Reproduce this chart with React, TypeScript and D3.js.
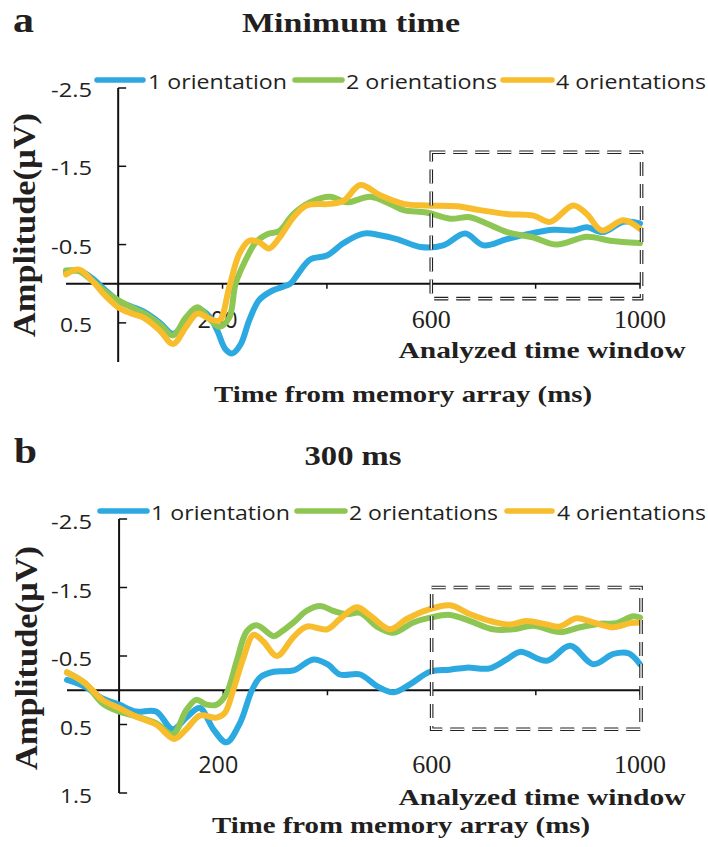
import React from 'react';
import * as d3 from 'd3';

type Pt = [number, number];

// panel a (minimum time) – [ms, µV]
const aBlue: Pt[] = [
  [-100, -0.15], [-75, -0.17], [-50, -0.07], [-25, 0.08], [0, 0.22], [25, 0.29], [50, 0.36], [80, 0.5],
  [105, 0.64], [130, 0.48], [155, 0.33], [175, 0.42], [190, 0.6], [206, 0.84], [219, 0.89], [235, 0.77],
  [251, 0.47], [270, 0.21], [295, 0.09], [315, 0.04], [330, 0.0], [345, -0.13], [368, -0.31], [400, -0.36],
  [432, -0.52], [470, -0.64], [502, -0.62], [534, -0.57], [579, -0.47], [623, -0.49], [665, -0.64],
  [700, -0.49], [745, -0.57], [789, -0.64], [834, -0.69], [872, -0.68], [898, -0.72], [930, -0.66],
  [968, -0.79], [1000, -0.77],
];
const aGreen: Pt[] = [
  [-100, -0.17], [-75, -0.16], [-50, -0.04], [-25, 0.1], [0, 0.21], [25, 0.3], [50, 0.38], [80, 0.52],
  [105, 0.66], [130, 0.43], [152, 0.3], [175, 0.45], [194, 0.55], [213, 0.43], [225, 0.0], [244, -0.3],
  [264, -0.53], [289, -0.64], [308, -0.67], [336, -0.89], [368, -1.04], [406, -1.11], [438, -1.04],
  [483, -1.11], [521, -1.02], [547, -0.94], [591, -0.91], [636, -0.83], [674, -0.85], [706, -0.77],
  [745, -0.66], [796, -0.59], [840, -0.5], [898, -0.6], [943, -0.55], [1000, -0.52],
];
const aOrange: Pt[] = [
  [-100, -0.12], [-75, -0.18], [-50, -0.04], [-25, 0.15], [0, 0.3], [25, 0.38], [50, 0.44], [80, 0.6],
  [105, 0.77], [130, 0.55], [152, 0.38], [175, 0.45], [194, 0.47], [213, 0.04], [232, -0.38], [251, -0.55],
  [270, -0.53], [289, -0.45], [308, -0.58], [336, -0.85], [361, -1.0], [406, -1.02], [432, -1.06],
  [464, -1.26], [502, -1.13], [547, -1.02], [591, -1.0], [649, -0.99], [693, -0.94], [745, -0.89],
  [796, -0.87], [828, -0.79], [872, -1.0], [898, -0.89], [927, -0.68], [968, -0.81], [1000, -0.7],
];

// panel b (300 ms)
const bBlue: Pt[] = [
  [-100, -0.15], [-65, -0.05], [-32, 0.12], [0, 0.21], [32, 0.31], [71, 0.31], [103, 0.57], [129, 0.4],
  [155, 0.26], [181, 0.57], [206, 0.76], [232, 0.48], [255, 0.0], [271, -0.19], [297, -0.27], [335, -0.29],
  [373, -0.45], [400, -0.38], [424, -0.23], [463, -0.23], [495, -0.06], [527, 0.03], [559, -0.09],
  [597, -0.27], [635, -0.3], [667, -0.33], [712, -0.32], [744, -0.45], [770, -0.56], [821, -0.43],
  [866, -0.65], [910, -0.38], [949, -0.53], [978, -0.54], [1000, -0.38],
];
const bGreen: Pt[] = [
  [-100, -0.26], [-65, -0.1], [-32, 0.19], [0, 0.31], [32, 0.38], [71, 0.48], [103, 0.64], [129, 0.29],
  [148, 0.14], [168, 0.21], [187, 0.21], [206, 0.05], [226, -0.43], [245, -0.86], [264, -0.95], [297, -0.79],
  [309, -0.84], [335, -0.99], [360, -1.16], [386, -1.23], [411, -1.16], [437, -1.11], [463, -1.13],
  [495, -0.93], [527, -0.84], [565, -0.99], [597, -1.06], [635, -1.1], [674, -1.01], [718, -0.89],
  [757, -0.89], [795, -0.94], [846, -0.85], [885, -0.92], [923, -0.97], [955, -0.98], [987, -1.08],
  [1000, -1.06],
];
const bOrange: Pt[] = [
  [-100, -0.26], [-65, -0.1], [-32, 0.14], [0, 0.26], [32, 0.38], [71, 0.5], [106, 0.71], [129, 0.57],
  [155, 0.37], [187, 0.4], [203, 0.33], [219, 0.0], [239, -0.48], [258, -0.81], [277, -0.71], [303, -0.5],
  [335, -0.78], [360, -0.93], [399, -0.89], [424, -1.04], [456, -1.21], [482, -1.09], [520, -0.89],
  [552, -1.04], [591, -1.17], [635, -1.24], [674, -1.11], [718, -1.0], [750, -0.96], [782, -1.01],
  [821, -0.96], [846, -0.93], [878, -1.05], [910, -0.99], [949, -0.92], [981, -0.98], [1000, -0.99],
];

const seriesNames = ['1 orientation', '2 orientations', '4 orientations'];
const seriesColors = ['#2CA9E1', '#8DC653', '#F7BD2C'];
const yTicksA = [-2.5, -1.5, -0.5, 0.5];
const yTicksB = [-2.5, -1.5, -0.5, 0.5, 1.5];
const xTicks = [200, 400, 600, 800, 1000];
const xLabels = [200, 600, 1000];
const windowStart = 600;

const SANS = '"Open Sans", sans-serif';
const SERIF = '"Liberation Serif", serif';
const INK = '#231F20';

const T = ({ x, y, w, anchor = 'start', size, family = SERIF, weight = 'bold', rotate = false, children }: any) => (
  <text
    x={x}
    y={y}
    textAnchor={anchor}
    fontSize={size}
    fontFamily={family}
    fontWeight={weight}
    textLength={w}
    lengthAdjust="spacingAndGlyphs"
    fill={INK}
    transform={rotate ? `rotate(-90,${x},${y})` : undefined}
  >
    {children}
  </text>
);

const Panel = ({ cfg }: any) => {
  const x = d3.scaleLinear().domain([-100, 1000]).range(cfg.xRange);
  const y = d3.scaleLinear().domain(cfg.yDomain).range(cfg.yRange);
  const line = d3.line<Pt>()
    .x(d => x(d[0]))
    .y(d => y(d[1]))
    .curve(d3.curveCatmullRom.alpha(0.5));

  const bx0 = x(windowStart), bx1 = x(cfg.boxEnd);
  const by0 = y(cfg.boxTop), by1 = y(cfg.boxBottom);
  const x0 = x(0), y0 = y(0);

  return (
    <g>
      <T x={cfg.letter.x} y={cfg.letter.y} w={cfg.letter.w} size={35}>{cfg.letter.text}</T>
      <T x={cfg.title.x} y={cfg.title.y} w={cfg.title.w} anchor="middle" size={28}>{cfg.title.text}</T>

      {/* legend */}
      {seriesNames.map((name, i) => (
        <g key={name}>
          <line x1={cfg.legend[i][0]} x2={cfg.legend[i][1]} y1={cfg.legendY} y2={cfg.legendY}
            stroke={seriesColors[i]} strokeWidth={5.5} strokeLinecap="round" />
          <T x={cfg.legend[i][2]} y={cfg.legendY + 9} w={cfg.legend[i][3]} size={20} family={SANS} weight="normal">{name}</T>
        </g>
      ))}

      {/* y axis */}
      <line x1={x0} x2={x0} y1={cfg.yRange[1]} y2={cfg.yRange[0]} stroke="#111" strokeWidth={2} />
      {cfg.yTicks.map((t: number) => (
        <g key={t}>
          <line x1={x0} x2={x0 + 8} y1={y(t)} y2={y(t)} stroke="#111" strokeWidth={1.5} />
          <T x={92} y={y(t) + cfg.yLabelDy} w={t < 0 ? 41 : 32} anchor="end" size={20} family={SANS} weight="normal">
            {String(t)}
          </T>
        </g>
      ))}

      {/* x axis at zero */}
      <line x1={x(-100)} x2={x(1000)} y1={y0} y2={y0} stroke="#111" strokeWidth={2} />
      {xTicks.map(t => (
        <line key={t} x1={x(t)} x2={x(t)} y1={y0} y2={y0 + 5} stroke="#111" strokeWidth={1.5} />
      ))}
      {xLabels.map(t => (
        t === 200
          ? <T key={t} x={x(t) - 5} y={cfg.xLabelY} w={40} anchor="middle" size={24} family={SANS} weight="normal">{t}</T>
          : <T key={t} x={x(t)} y={cfg.xLabelY} w={t === 1000 ? 52 : 39} anchor="middle" size={26} weight="normal">{t}</T>
      ))}

      {/* series */}
      {cfg.series.map((s: Pt[], i: number) => (
        <path key={i} d={line(s) || ''} fill="none" stroke={seriesColors[i]} strokeWidth={6}
          strokeLinejoin="round" strokeLinecap="round" />
      ))}

      {/* analyzed window: double dashed box */}
      <rect x={bx0} y={by0} width={bx1 - bx0} height={by1 - by0} fill="none"
        stroke="#222" strokeWidth={3.6} strokeDasharray="14 8" />
      <rect x={bx0} y={by0} width={bx1 - bx0} height={by1 - by0} fill="none"
        stroke="#fff" strokeWidth={1.4} strokeDasharray="14 8" />

      <T x={542} y={cfg.windowLabelY} w={287} anchor="middle" size={23}>Analyzed time window</T>
      <T x={cfg.xTitle.x} y={cfg.xTitle.y} w={cfg.xTitle.w} anchor="middle" size={23}>Time from memory array (ms)</T>
      <T x={cfg.yTitle.x} y={cfg.yTitle.y} w={224} anchor="middle" size={31} rotate>Amplitude(µV)</T>
    </g>
  );
};

const panelA = {
  xRange: [66, 640], yDomain: [-2.5, 1.0], yRange: [88, 362], yTicks: yTicksA, yLabelDy: 9,
  series: [aBlue, aGreen, aOrange], boxEnd: 1003, boxTop: -1.68, boxBottom: 0.19,
  letter: { x: 13, y: 32, w: 21, text: 'a' },
  title: { x: 351, y: 32, w: 218, text: 'Minimum time' },
  legendY: 80,
  legend: [[97, 143, 148, 139], [295, 342, 346, 151], [503, 552, 556, 150]],
  xLabelY: 328, windowLabelY: 358,
  xTitle: { x: 403, y: 402, w: 378 },
  yTitle: { x: 35, y: 225 },
};

const panelB = {
  xRange: [67, 640], yDomain: [-2.5, 1.5], yRange: [519, 793], yTicks: yTicksB, yLabelDy: 10,
  series: [bBlue, bGreen, bOrange], boxEnd: 1002, boxTop: -1.5, boxBottom: 0.57,
  letter: { x: 14, y: 463, w: 23, text: 'b' },
  title: { x: 353, y: 465, w: 97, text: '300 ms' },
  legendY: 511,
  legend: [[100, 147, 151, 139], [297, 345, 349, 149], [507, 552, 557, 149]],
  xLabelY: 773, windowLabelY: 805,
  xTitle: { x: 401, y: 833, w: 378 },
  yTitle: { x: 37, y: 658 },
};

export default function App() {
  return (
    <svg width={708} height={847} style={{ position: 'absolute', left: 0, top: 0, background: '#fff' }}>
      <rect width={708} height={847} fill="#fff" />
      <Panel cfg={panelA} />
      <Panel cfg={panelB} />
    </svg>
  );
}
